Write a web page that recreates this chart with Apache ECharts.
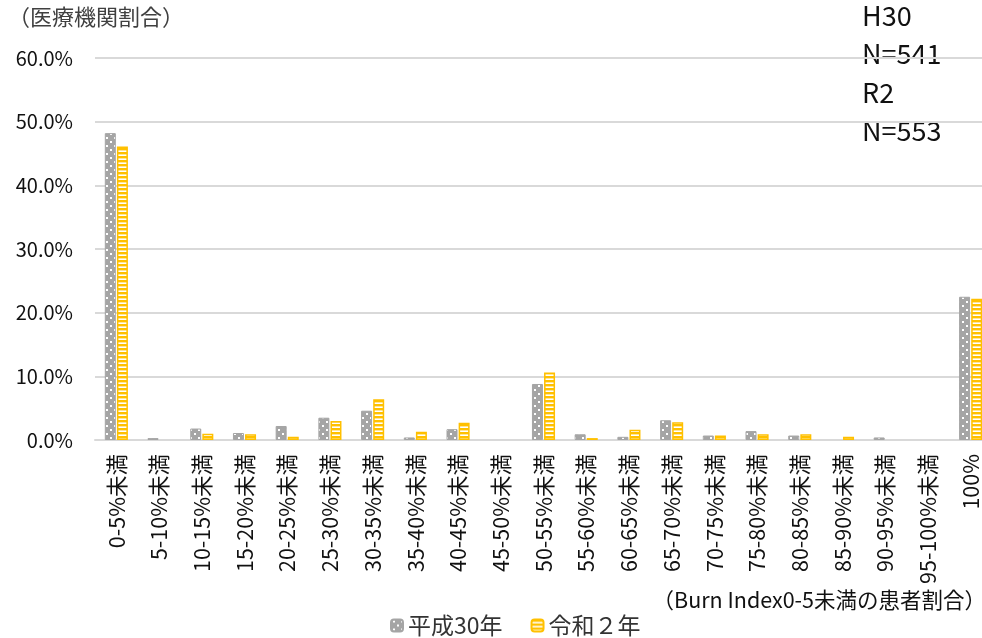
<!DOCTYPE html>
<html><head><meta charset="utf-8">
<script src="https://cdn.jsdelivr.net/npm/echarts@6/dist/echarts.min.js"></script>
<style>html,body{margin:0;padding:0;background:#fff;overflow:hidden}#c{width:992px;height:638px}</style>
</head><body><div id="c"></div>
<script>
const categories = ['0-5%未満','5-10%未満','10-15%未満','15-20%未満','20-25%未満','25-30%未満','30-35%未満','35-40%未満','40-45%未満','45-50%未満','50-55%未満','55-60%未満','60-65%未満','65-70%未満','70-75%未満','75-80%未満','80-85%未満','85-90%未満','90-95%未満','95-100%未満','100%'];
const h30 = [48.2,0.3,1.8,1.1,2.2,3.5,4.6,0.4,1.7,0,8.8,0.9,0.5,3.1,0.7,1.4,0.7,0,0.4,0,22.5];
const r2  = [46.1,0,1.0,0.9,0.5,3.0,6.4,1.3,2.7,0,10.6,0.3,1.6,2.8,0.7,0.9,0.9,0.5,0,0,22.2];
const seriesNames = ['平成30年','令和２年'];
const noteLines = ['H30','N=541','R2','N=553'];

function dotPattern(){
  const c=document.createElement('canvas');c.width=8;c.height=8;
  const g=c.getContext('2d');g.fillStyle='#A5A5A5';g.fillRect(0,0,8,8);
  g.fillStyle='#ffffff';g.fillRect(2,1,2,2);g.fillRect(6,5,2,2);
  return {image:c,repeat:'repeat'};
}
function stripePattern(){
  const c=document.createElement('canvas');c.width=4;c.height=4;
  const g=c.getContext('2d');g.fillStyle='#ffffff';g.fillRect(0,0,4,4);
  g.fillStyle='#FFC000';g.fillRect(0,0,4,2.4);
  return {image:c,repeat:'repeat'};
}
const nz = v => v === 0 ? null : v;
const font="'Noto Sans CJK JP','Noto Sans',sans-serif";
const chart=echarts.init(document.getElementById('c'),null,{renderer:'canvas'});
chart.setOption({
  animation:false,
  textStyle:{fontFamily:font},
  grid:{left:95,right:0,top:58,bottom:198,containLabel:false},
  legend:{bottom:-4,left:385,itemWidth:12,itemHeight:12,itemGap:28,
    textStyle:{fontSize:23,color:'#333',fontFamily:font},
    data:seriesNames},
  graphic:[
    {type:'text',left:8,top:6,style:{text:'（医療機関割合）',font:"22px 'Noto Sans CJK JP'",fill:'#404040'}},
    {type:'text',left:862,top:-4,style:{text:noteLines.join('\n'),font:"27px 'Noto Sans CJK JP'",lineHeight:38.5,fill:'#111'}},
    {type:'text',right:6,top:589,style:{text:'（Burn Index0-5未満の患者割合）',font:"21.5px 'Noto Sans CJK JP'",fill:'#111'}}
  ],
  xAxis:{type:'category',data:categories,
    axisLine:{lineStyle:{color:'#D9D9D9',width:2}},axisTick:{show:false},
    axisLabel:{rotate:90,interval:0,fontSize:21.5,color:'#111',margin:14,fontFamily:font}},
  yAxis:{type:'value',min:0,max:60,interval:10,
    axisLabel:{formatter:v=>v.toFixed(1)+'%',fontSize:20,color:'#111',margin:22,fontFamily:font},
    splitLine:{lineStyle:{color:'#D9D9D9',width:2}},axisLine:{show:false}},
  series:[
    {name:seriesNames[0],type:'bar',data:h30.map(nz),barWidth:11,barGap:'10%',
      itemStyle:{color:dotPattern(),borderColor:'#A5A5A5',borderWidth:1}},
    {name:seriesNames[1],type:'bar',data:r2.map(nz),barWidth:11,
      itemStyle:{color:stripePattern(),borderColor:'#FFC000',borderWidth:1.5}}
  ]
});
</script></body></html>
